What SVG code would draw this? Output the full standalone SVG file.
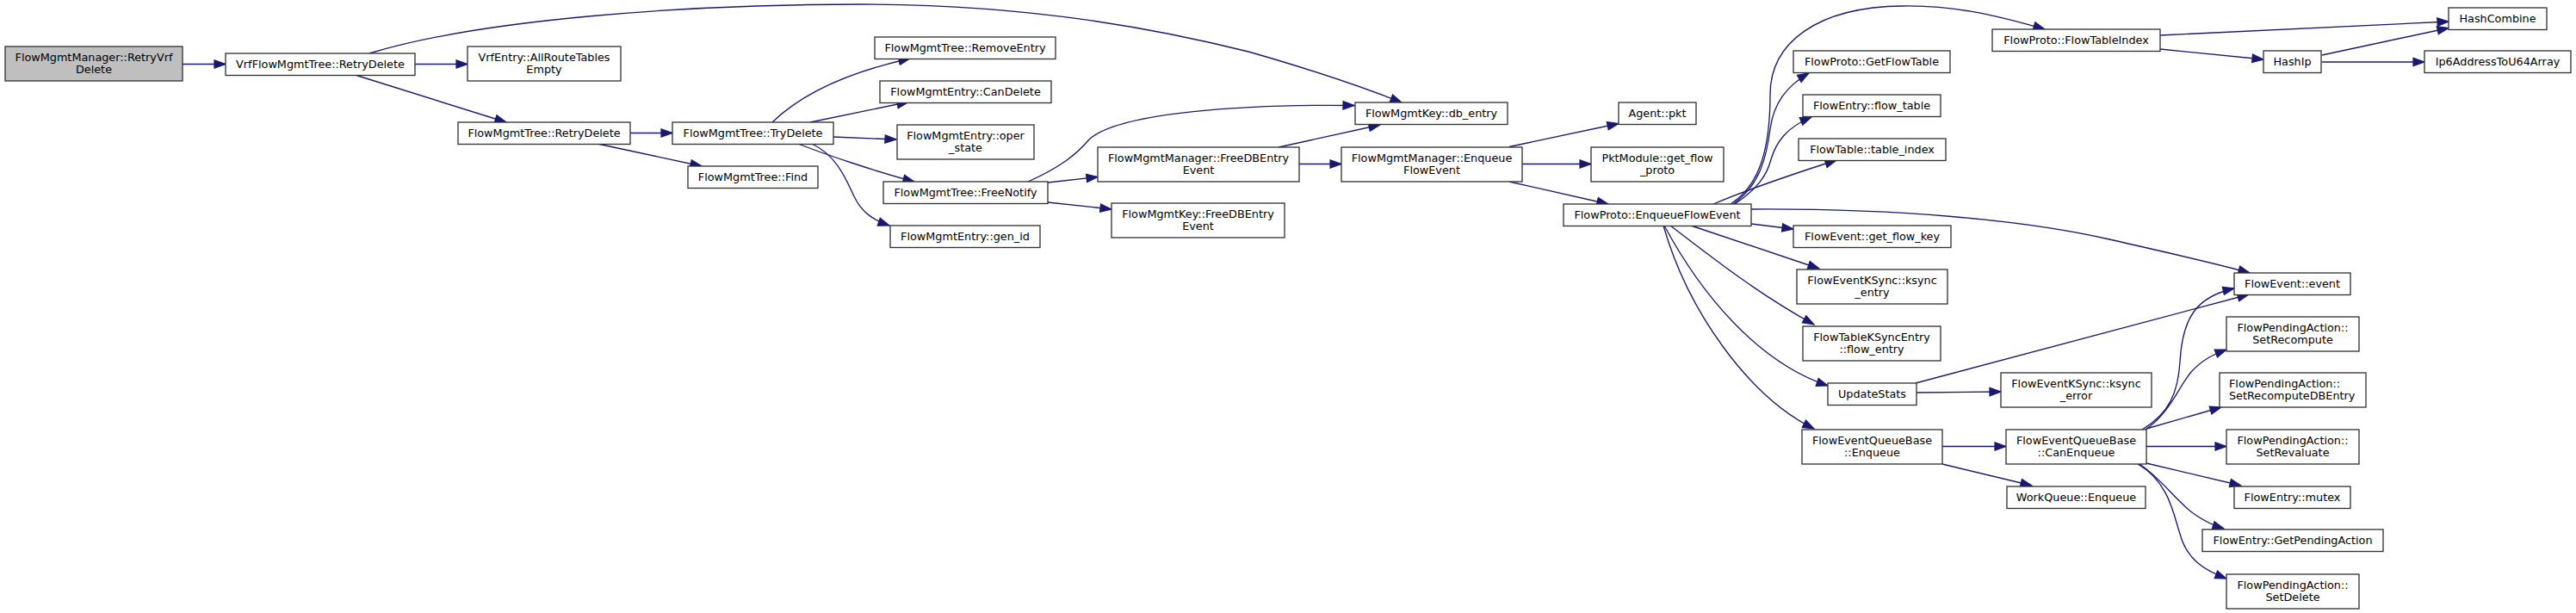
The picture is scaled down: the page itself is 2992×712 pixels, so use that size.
<svg xmlns="http://www.w3.org/2000/svg" width="2992" height="712" viewBox="0 0 2992 712">
<style>
.node rect{fill:#ffffff;stroke:#333333;stroke-width:1.33}
.node.root rect{fill:#bfbfbf}
.node text{font-family:"DejaVu Sans","Liberation Sans",sans-serif;font-size:12.8px;fill:#000000;text-anchor:middle}
.node text.left{text-anchor:start}
#edges path{fill:none;stroke:#191970;stroke-width:1.33;marker-end:url(#ah)}
</style>
<defs>
<marker id="ah" markerUnits="userSpaceOnUse" markerWidth="16" markerHeight="12" refX="13" refY="4.7" orient="auto" overflow="visible">
<path d="M0,0 L13,4.7 L0,9.4 z" fill="#191970" stroke="#191970" stroke-width="1.2"/>
</marker>
</defs>
<rect width="2992" height="712" fill="#ffffff"/>
<g id="edges">
<path d="M212,74.5 L262,74.5"/>
<path d="M482,74.5 L543,74.5"/>
<path d="M414,87.5 L588,142"/>
<path d="M429,62 C560,22 800,5 1000,5 C1200,5 1350,35 1450,60 C1520,80 1580,100 1628,119"/>
<path d="M732,154.5 L781,154.5"/>
<path d="M694,167 L815,193"/>
<path d="M897,142 C930,110 980,85 1057,68"/>
<path d="M941,142 L1055,118.5"/>
<path d="M968,159 L1041,162"/>
<path d="M927,167 C960,180 1020,200 1062,211"/>
<path d="M943,167 C975,182 985,215 993,230 C1001,246 1013,255 1033,262"/>
<path d="M1194,211 C1230,195 1250,180 1265,162 C1300,130 1450,121 1573,122.5"/>
<path d="M1217,212 L1275,205.5"/>
<path d="M1217,235 L1291,243"/>
<path d="M1485,171 L1603,145"/>
<path d="M1509,190.5 L1558,190.5"/>
<path d="M1753,170.5 L1880,143.5"/>
<path d="M1768,190.5 L1848,190.5"/>
<path d="M1753,211 L1868,237"/>
<path d="M2013,237 C2045,215 2052,180 2056,150 C2060,120 2075,100 2101,85"/>
<path d="M2010,237 C2045,215 2056,170 2056,110 C2056,50 2110,8 2210,7 C2270,6 2320,18 2375,34"/>
<path d="M2015,237 C2040,220 2052,205 2057,185 C2063,165 2075,148 2104,136"/>
<path d="M1990,237 C2030,220 2080,203 2133,186"/>
<path d="M2034,243 C2200,242 2350,255 2450,278 C2520,294 2570,305 2613,317"/>
<path d="M2034,260 L2083,266"/>
<path d="M1964,262 L2113,312"/>
<path d="M1940,262 C1990,300 2040,340 2107,377"/>
<path d="M1933,262 C1975,340 2040,420 2123,448"/>
<path d="M1932,262 C1960,360 2030,460 2107,498"/>
<path d="M2509,41 L2844,25"/>
<path d="M2509,57 L2629,69"/>
<path d="M2697,64 L2844,32.5"/>
<path d="M2697,72 L2816,72"/>
<path d="M2225,445 L2612,342"/>
<path d="M2226,456 L2324,455"/>
<path d="M2256,518.5 L2330,518.5"/>
<path d="M2256,539 L2360,564"/>
<path d="M2488,499 C2520,480 2530,455 2532,420 C2535,370 2550,345 2595,335"/>
<path d="M2492,499 C2520,480 2530,450 2545,432 C2558,418 2570,412 2586,406"/>
<path d="M2493,498 L2580,473"/>
<path d="M2493,518.5 L2586,518.5"/>
<path d="M2493,538 L2603,564"/>
<path d="M2485,539 C2510,555 2530,585 2550,598 C2560,605 2570,610 2583,614"/>
<path d="M2483,539 C2520,560 2525,600 2532,620 C2540,650 2560,662 2586,672"/>
</g>
<g id="n_root" class="node root"><rect x="6" y="54" width="206" height="40"/><text x="109" y="70.8">FlowMgmtManager::RetryVrf</text><text x="109" y="84.8">Delete</text></g>
<g id="n_vrf_retrydelete" class="node"><rect x="262" y="62" width="220" height="25.5"/><text x="372" y="79">VrfFlowMgmtTree::RetryDelete</text></g>
<g id="n_allroutetablesempty" class="node"><rect x="543" y="54" width="178" height="40"/><text x="632" y="70.8">VrfEntry::AllRouteTables</text><text x="632" y="84.8">Empty</text></g>
<g id="n_tree_retrydelete" class="node"><rect x="532" y="142" width="200" height="25.5"/><text x="632" y="159">FlowMgmtTree::RetryDelete</text></g>
<g id="n_trydelete" class="node"><rect x="781" y="142" width="187" height="25.5"/><text x="874.5" y="159">FlowMgmtTree::TryDelete</text></g>
<g id="n_find" class="node"><rect x="799" y="193" width="151" height="25.5"/><text x="874.5" y="210">FlowMgmtTree::Find</text></g>
<g id="n_removeentry" class="node"><rect x="1016" y="43" width="210" height="25.5"/><text x="1121" y="60">FlowMgmtTree::RemoveEntry</text></g>
<g id="n_candelete" class="node"><rect x="1022" y="94" width="199" height="25.5"/><text x="1121.5" y="111">FlowMgmtEntry::CanDelete</text></g>
<g id="n_operstate" class="node"><rect x="1042" y="145" width="159" height="40"/><text x="1121.5" y="161.8">FlowMgmtEntry::oper</text><text x="1121.5" y="175.8">_state</text></g>
<g id="n_freenotify" class="node"><rect x="1026" y="211" width="191" height="25.5"/><text x="1121.5" y="228">FlowMgmtTree::FreeNotify</text></g>
<g id="n_genid" class="node"><rect x="1034" y="262" width="174" height="25.5"/><text x="1121" y="279">FlowMgmtEntry::gen_id</text></g>
<g id="n_mgr_freedbentryevent" class="node"><rect x="1275" y="171" width="234" height="40"/><text x="1392" y="187.8">FlowMgmtManager::FreeDBEntry</text><text x="1392" y="201.8">Event</text></g>
<g id="n_key_freedbentryevent" class="node"><rect x="1291" y="236" width="201" height="40"/><text x="1391.5" y="252.8">FlowMgmtKey::FreeDBEntry</text><text x="1391.5" y="266.8">Event</text></g>
<g id="n_dbentry" class="node"><rect x="1574" y="119" width="177" height="25.5"/><text x="1662.5" y="136">FlowMgmtKey::db_entry</text></g>
<g id="n_mgr_enqueueflowevent" class="node"><rect x="1558" y="171" width="210" height="40"/><text x="1663" y="187.8">FlowMgmtManager::Enqueue</text><text x="1663" y="201.8">FlowEvent</text></g>
<g id="n_agent_pkt" class="node"><rect x="1880" y="119" width="90" height="25.5"/><text x="1925" y="136">Agent::pkt</text></g>
<g id="n_get_flow_proto" class="node"><rect x="1848" y="171" width="154" height="40"/><text x="1925" y="187.8">PktModule::get_flow</text><text x="1925" y="201.8">_proto</text></g>
<g id="n_proto_enqueueflowevent" class="node"><rect x="1816" y="237" width="218" height="25.5"/><text x="1925" y="254">FlowProto::EnqueueFlowEvent</text></g>
<g id="n_flowtableindex" class="node"><rect x="2314" y="34" width="195" height="25.5"/><text x="2411.5" y="51">FlowProto::FlowTableIndex</text></g>
<g id="n_getflowtable" class="node"><rect x="2083" y="59" width="182" height="25.5"/><text x="2174" y="76">FlowProto::GetFlowTable</text></g>
<g id="n_flow_table" class="node"><rect x="2094" y="110" width="160" height="25.5"/><text x="2174" y="127">FlowEntry::flow_table</text></g>
<g id="n_table_index" class="node"><rect x="2089" y="161" width="171" height="25.5"/><text x="2174.5" y="178">FlowTable::table_index</text></g>
<g id="n_get_flow_key" class="node"><rect x="2083" y="262" width="183" height="25.5"/><text x="2174.5" y="279">FlowEvent::get_flow_key</text></g>
<g id="n_ksync_entry" class="node"><rect x="2087" y="313" width="175" height="40"/><text x="2174.5" y="329.8">FlowEventKSync::ksync</text><text x="2174.5" y="343.8">_entry</text></g>
<g id="n_flow_entry" class="node"><rect x="2094" y="379" width="160" height="40"/><text x="2174" y="395.8">FlowTableKSyncEntry</text><text x="2174" y="409.8">::flow_entry</text></g>
<g id="n_updatestats" class="node"><rect x="2123" y="445" width="103" height="25.5"/><text x="2174.5" y="462">UpdateStats</text></g>
<g id="n_feqb_enqueue" class="node"><rect x="2093" y="499" width="163" height="40"/><text x="2174.5" y="515.8">FlowEventQueueBase</text><text x="2174.5" y="529.8">::Enqueue</text></g>
<g id="n_hashcombine" class="node"><rect x="2844" y="9" width="114" height="25.5"/><text x="2901" y="26">HashCombine</text></g>
<g id="n_haship" class="node"><rect x="2629" y="59" width="67" height="25.5"/><text x="2662.5" y="76">HashIp</text></g>
<g id="n_ip6" class="node"><rect x="2816" y="59" width="170" height="25.5"/><text x="2901" y="76">Ip6AddressToU64Array</text></g>
<g id="n_event" class="node"><rect x="2595" y="317" width="135" height="25.5"/><text x="2662.5" y="334">FlowEvent::event</text></g>
<g id="n_ksync_error" class="node"><rect x="2324" y="433" width="175" height="40"/><text x="2411.5" y="449.8">FlowEventKSync::ksync</text><text x="2411.5" y="463.8">_error</text></g>
<g id="n_canenqueue" class="node"><rect x="2330" y="499" width="163" height="40"/><text x="2411.5" y="515.8">FlowEventQueueBase</text><text x="2411.5" y="529.8">::CanEnqueue</text></g>
<g id="n_workqueue" class="node"><rect x="2331" y="565" width="161" height="25.5"/><text x="2411.5" y="582">WorkQueue::Enqueue</text></g>
<g id="n_setrecompute" class="node"><rect x="2586" y="368" width="154" height="40"/><text x="2663" y="384.8">FlowPendingAction::</text><text x="2663" y="398.8">SetRecompute</text></g>
<g id="n_setrecomputedbentry" class="node"><rect x="2578" y="433" width="170" height="40"/><text class="left" x="2589" y="449.8">FlowPendingAction::</text><text class="left" x="2589" y="463.8">SetRecomputeDBEntry</text></g>
<g id="n_setrevaluate" class="node"><rect x="2586" y="499" width="154" height="40"/><text x="2663" y="515.8">FlowPendingAction::</text><text x="2663" y="529.8">SetRevaluate</text></g>
<g id="n_mutex" class="node"><rect x="2595" y="565" width="135" height="25.5"/><text x="2662.5" y="582">FlowEntry::mutex</text></g>
<g id="n_getpendingaction" class="node"><rect x="2558" y="615" width="210" height="25.5"/><text x="2663" y="632">FlowEntry::GetPendingAction</text></g>
<g id="n_setdelete" class="node"><rect x="2586" y="667" width="154" height="40"/><text x="2663" y="683.8">FlowPendingAction::</text><text x="2663" y="697.8">SetDelete</text></g>
</svg>
